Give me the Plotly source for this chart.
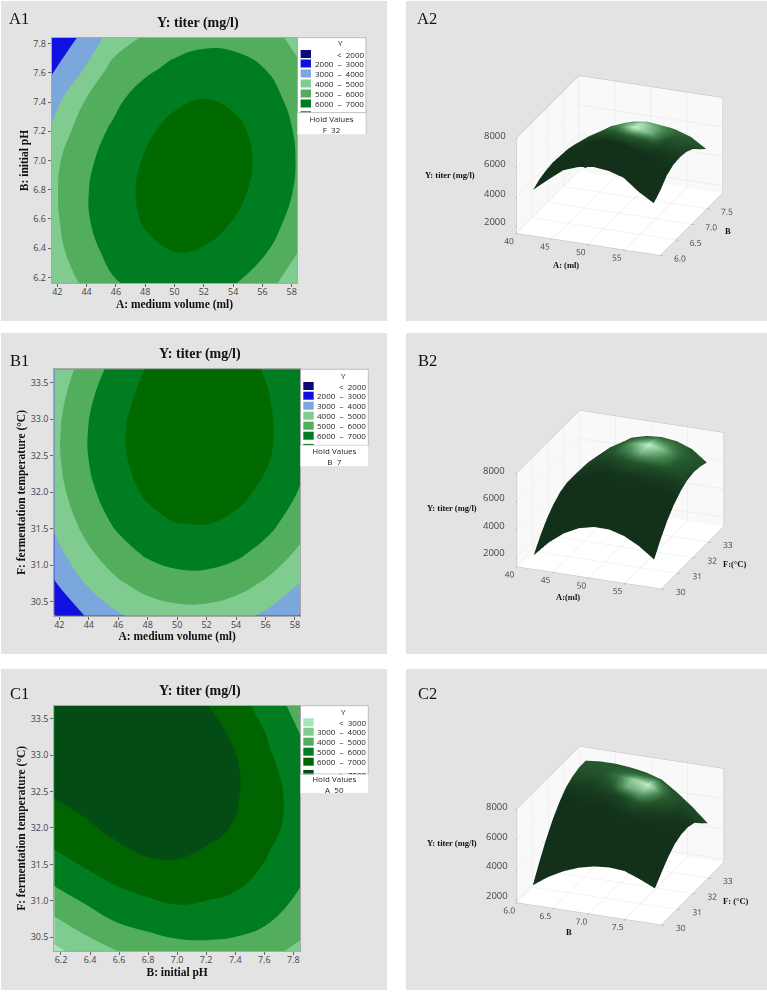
import plotly.graph_objects as go

W, H = 767, 992

# --- data: grid nodes and titer values (mg/l) ---
a_nodes = [41.62, 43.715, 45.81, 47.905, 50.0, 52.095, 54.19, 56.285, 58.38]
b_nodes = [6.16, 6.37, 6.58, 6.79, 7.0, 7.21, 7.42, 7.63, 7.84]
z_ab = [
    [4250, 5100, 5900, 6280, 6440, 6330, 6020, 5220, 4600],
    [4550, 5550, 6300, 6750, 6990, 6910, 6560, 6010, 5010],
    [4700, 5830, 6470, 7060, 7310, 7280, 6950, 6450, 5600],
    [4780, 5850, 6560, 7160, 7470, 7480, 7190, 6680, 5880],
    [4700, 5700, 6450, 7050, 7450, 7500, 7260, 6780, 5950],
    [4090, 5480, 6130, 6830, 7230, 7340, 7150, 6700, 5870],
    [3530, 4900, 5750, 6420, 6850, 7005, 6850, 6420, 5620],
    [2850, 3930, 5300, 5780, 6220, 6430, 6320, 5970, 5150],
    [2150, 3190, 4410, 5100, 5560, 5760, 5720, 5380, 4725],
]
a2_nodes = [41.66, 43.745, 45.83, 47.915, 50.0, 52.085, 54.17, 56.255, 58.34]
f_nodes = [30.31, 30.73, 31.15, 31.57, 32.0, 32.42, 32.84, 33.26, 33.68]
z_af = [
    [1950, 3020, 3830, 4360, 4610, 4600, 4300, 3740, 2960],
    [2870, 3960, 4780, 5320, 5590, 5585, 5310, 4750, 3930],
    [3610, 4715, 5545, 6100, 6380, 6390, 6125, 5590, 4775],
    [4170, 5290, 6130, 6700, 6995, 7015, 6765, 6240, 5440],
    [4555, 5685, 6540, 7125, 7435, 7470, 7230, 6720, 5930],
    [4750, 5890, 6760, 7355, 7680, 7730, 7500, 7005, 6230],
    [4760, 5915, 6800, 7410, 7745, 7805, 7590, 7105, 6345],
    [4590, 5760, 6655, 7280, 7625, 7700, 7500, 7030, 6280],
    [4240, 5420, 6330, 7040, 7330, 7415, 7280, 6900, 6100],
]
b2_nodes = [6.154, 6.3655, 6.577, 6.7885, 7.0, 7.2115, 7.423, 7.6345, 7.846]
z_bf = [
    [2750, 3450, 3980, 4370, 4610, 4700, 4620, 4230, 3780],
    [3870, 4480, 5050, 5350, 5590, 5530, 5400, 5070, 4400],
    [4890, 5450, 5900, 6190, 6380, 6240, 6000, 5470, 4970],
    [5770, 6220, 6620, 6960, 6995, 6790, 6560, 5930, 5400],
    [6480, 6830, 7240, 7420, 7434, 7250, 6890, 6230, 5620],
    [7020, 7330, 7620, 7720, 7680, 7480, 7020, 6300, 5650],
    [7320, 7560, 7800, 7820, 7743, 7540, 7010, 6170, 5500],
    [7480, 7660, 7800, 7760, 7626, 7380, 6800, 5920, 5030],
    [7500, 7600, 7600, 7500, 7327, 7010, 6320, 5520, 4600],
]
# brightness of the 3D surfaces at the same nodes (0 dark .. 1 highlight)
shade_ab = [
    [0, 0, 0, 0, 0, 0, 0, 0, 0],
    [0, 0, 0, 0, 0, 0, 0, 0, 0],
    [0, 0, 0, 0, 0, 0, 0, 0, 0],
    [0.05, 0.05, 0.08, 0.16, 0.28, 0.42, 0.25, 0.08, 0.03],
    [0.05, 0.12, 0.22, 0.33, 0.55, 1.0, 0.72, 0.2, 0.08],
    [0.1, 0.2, 0.3, 0.4, 0.6, 0.92, 0.68, 0.32, 0.15],
    [0.15, 0.2, 0.3, 0.4, 0.5, 0.7, 0.55, 0.35, 0.2],
    [0.15, 0.2, 0.25, 0.3, 0.35, 0.4, 0.4, 0.35, 0.25],
    [0.15, 0.2, 0.2, 0.25, 0.25, 0.3, 0.3, 0.3, 0.25],
]
shade_af = [
    [0, 0, 0, 0, 0, 0, 0, 0, 0],
    [0, 0, 0, 0, 0, 0, 0, 0, 0],
    [0, 0, 0, 0, 0, 0, 0, 0, 0],
    [0, 0, 0, 0, 0.03, 0.05, 0.03, 0, 0],
    [0, 0.02, 0.05, 0.1, 0.22, 0.3, 0.22, 0.1, 0.05],
    [0.05, 0.1, 0.15, 0.28, 0.5, 0.75, 0.55, 0.3, 0.15],
    [0.1, 0.15, 0.22, 0.35, 0.65, 1.0, 0.75, 0.35, 0.2],
    [0.15, 0.2, 0.25, 0.35, 0.45, 0.6, 0.5, 0.35, 0.25],
    [0.2, 0.22, 0.25, 0.3, 0.32, 0.35, 0.35, 0.3, 0.28],
]
shade_bf = [
    [0, 0, 0, 0, 0, 0, 0, 0, 0],
    [0, 0, 0, 0, 0, 0, 0, 0, 0],
    [0, 0, 0, 0, 0, 0, 0, 0, 0],
    [0, 0, 0, 0, 0.02, 0.03, 0.02, 0, 0],
    [0, 0.02, 0.05, 0.08, 0.15, 0.28, 0.12, 0.03, 0.02],
    [0.05, 0.1, 0.15, 0.3, 0.7, 0.72, 0.3, 0.08, 0.03],
    [0.2, 0.25, 0.3, 0.45, 0.85, 1.0, 0.38, 0.12, 0.08],
    [0.3, 0.3, 0.32, 0.35, 0.4, 0.6, 0.32, 0.18, 0.15],
    [0.32, 0.32, 0.3, 0.3, 0.3, 0.3, 0.25, 0.2, 0.2],
]

z_ticks = [2000, 4000, 6000, 8000]
legend_rows_low = ["<  2000", "2000  \u2013  3000", "3000  \u2013  4000", "4000  \u2013  5000", "5000  \u2013  6000", "6000  \u2013  7000"]
legend_rows_c = ["<  3000", "3000  \u2013  4000", "4000  \u2013  5000", "5000  \u2013  6000", "6000  \u2013  7000", ">  7000"]
colors_low = ["#0b0b78", "#1010e0", "#7ba7dc", "#80cc90", "#52ad5c", "#007d20", "#006a00"]
colors_c = ["#a2e6ba", "#80cc90", "#52ad5c", "#007d20", "#006400", "#044c16"]

GRAY = "#e3e3e3"
SERIF = "Liberation Serif"
SANS = "Open Sans"
TICK = "#444444"

def px(x):
    return x / W
def py(y):
    return 1 - y / H

fig = go.Figure()
shapes = []
annos = []

def rect(x0, y0, x1, y1, fill, line=None, lw=0):
    shapes.append(dict(type="rect", xref="paper", yref="paper", x0=px(x0), x1=px(x1), y0=py(y0), y1=py(y1),
                       fillcolor=fill, line=dict(color=line or fill, width=lw), layer="below"))

def text(x, y, s, size, family=SANS, color="#222222", xa="center", ya="middle", angle=0, **kw):
    annos.append(dict(xref="paper", yref="paper", x=px(x), y=py(y), text=s, showarrow=False, xanchor=xa, yanchor=ya,
                      textangle=angle, font=dict(family=family, size=size, color=color), **kw))

# grey panels
panels = [(1, 1, 387, 321), (406, 1, 767, 321), (1, 333, 387, 654), (406, 333, 767, 654), (1, 669, 387, 990), (406, 669, 767, 990)]
for p in panels:
    rect(*p, GRAY)

# panel letters
for x, y, s in [(19, 18, "A1"), (427, 18, "A2"), (19, 360, "B1"), (427, 360, "B2"), (19, 693, "C1"), (427, 693, "C2")]:
    text(x, y, s, 16.5, family=SERIF, color="#111111")

contours_spec = [
    dict(ax="", x=a_nodes, y=b_nodes, z=z_ab, colors=colors_low, start=2000, end=7000,
         box=(51.7, 37.7, 297.3, 283.3), xr=[41.62, 58.38], yr=[6.16, 7.84], xt=list(range(42, 60, 2)), xtf="d",
         yt=[6.2, 6.4, 6.6, 6.8, 7.0, 7.2, 7.4, 7.6, 7.8], ytf=".1f",
         xtitle="A: medium volume (ml)", ytitle="B: initial pH", hold="F  32", rows=legend_rows_low,
         leg=(297.3, 37.7, 366, 134, 112.7, 42.7, [54, 63.5, 73.5, 83.5, 93.5, 103.5], 119, 129)),
    dict(ax="2", x=a2_nodes, y=f_nodes, z=z_af, colors=colors_low, start=2000, end=7000,
         box=(54.3, 369.3, 300, 615.7), xr=[41.66, 58.34], yr=[30.31, 33.68], xt=list(range(42, 60, 2)), xtf="d",
         yt=[30.5, 31.0, 31.5, 32.0, 32.5, 33.0, 33.5], ytf=".1f",
         xtitle="A: medium volume (ml)", ytitle="F: fermentation temperature (\u00b0C)", hold="B  7", rows=legend_rows_low,
         leg=(300, 369.3, 368.3, 466, 445.3, 375, [386, 395.7, 405.7, 415.7, 425.7, 435.7], 451.7, 461.7)),
    dict(ax="3", x=b2_nodes, y=f_nodes, z=z_bf, colors=colors_c, start=3000, end=7000,
         box=(54.3, 705.7, 300, 951), xr=[6.154, 7.846], yr=[30.31, 33.68], xtf=".1f",
         xt=[6.2, 6.4, 6.6, 6.8, 7.0, 7.2, 7.4, 7.6, 7.8], yt=[30.5, 31.0, 31.5, 32.0, 32.5, 33.0, 33.5], ytf=".1f",
         xtitle="B: initial pH", ytitle="F: fermentation temperature (\u00b0C)", hold="A  50", rows=legend_rows_c,
         leg=(300, 705.7, 368.3, 793.3, 774, 711, [722.3, 731.7, 741.7, 751.7, 761.7, 774], 779, 789)),
]

layout_axes = {}
for c in contours_spec:
    n = len(c["colors"]) - 1
    scale = [[i / n, col] for i, col in enumerate(c["colors"])]
    fig.add_trace(go.Contour(x=c["x"], y=c["y"], z=c["z"], xaxis="x" + c["ax"], yaxis="y" + c["ax"],
                             autocontour=False,
                             contours=dict(start=c["start"], end=c["end"], size=1000, coloring="fill", showlines=False),
                             line=dict(width=0, smoothing=1.3), colorscale=scale, showscale=False, hoverinfo="skip"))
    x0, y0, x1, y1 = c["box"]
    axis_common = dict(showgrid=False, zeroline=False, showline=True, mirror=True, linecolor="#a8a8a8", linewidth=1,
                       ticks="outside", ticklen=3, tickcolor="#666666", tickfont=dict(family=SANS, size=9, color=TICK))
    layout_axes["xaxis" + c["ax"]] = dict(axis_common, domain=[px(x0), px(x1)], range=c["xr"], tickvals=c["xt"],
                                          tickformat=c["xtf"], anchor="y" + c["ax"], ticklabelstandoff=-3,
                                          title=dict(text="<b>%s</b>" % c["xtitle"], standoff=0,
                                                     font=dict(family=SERIF, size=11.5, color="#111111")))
    layout_axes["yaxis" + c["ax"]] = dict(axis_common, domain=[py(y1), py(y0)], range=c["yr"], tickvals=c["yt"],
                                          tickformat=c["ytf"], anchor="x" + c["ax"],
                                          title=dict(text="<b>%s</b>" % c["ytitle"], standoff=2,
                                                     font=dict(family=SERIF, size=11.5, color="#111111")))
    # chart title
    text((x0 + x1) / 2 + 23, y0 - 15, "<b>Y: titer (mg/l)</b>", 14, family=SERIF, color="#111111")
    # legend
    lx0, ly0, lx1, ly1, sep, ty, rows_y, h1, h2 = c["leg"]
    rect(lx0, ly0, lx1, ly1, "#ffffff", "#bdbdbd", 1)
    text(lx0 + 43.5, ty, "Y", 8)
    for i, (s, ry) in enumerate(zip(c["rows"], rows_y)):
        rect(lx0 + 3.3, ry - 4, lx0 + 13.7, ry + 4, c["colors"][i])
        text(lx1 - 0.5, ry, s, 8, xa="right")
    # strip of the clipped last swatch for the low-range legends
    if c["ax"] != "3":
        rect(lx0 + 3.3, sep - 1.4, lx0 + 13.7, sep, c["colors"][6])
    # the hold-value box sits on top of the clipped row
    annos.append(dict(xref="paper", yref="paper", x=px((lx0 + lx1) / 2), y=py(sep), xanchor="center", yanchor="top",
                      text="Hold Values<br>" + c["hold"], showarrow=False, align="center",
                      font=dict(family=SANS, size=8, color="#222222"), bgcolor="#ffffff",
                      width=lx1 - lx0 - 1.5, height=ly1 - sep - 1, borderpad=0))
    shapes.append(dict(type="line", xref="paper", yref="paper", x0=px(lx0), x1=px(lx1), y0=py(sep), y1=py(sep),
                       line=dict(color="#bdbdbd", width=1), layer="above"))

surfaces = [
    dict(name="scene", x=a_nodes, y=b_nodes, z=z_ab, shade=shade_ab, panel=(406, 1, 767, 321), xr=[40, 60], yr=[6, 8], zr=[1500, 8000],
         xt=[40, 45, 50, 55], xtf="d", yt=[6.0, 6.5, 7.0, 7.5], ytf=".1f",
         center=(-0.197, -0.065, 0.026), eye=(0.475, -1.779, 0.810), aspz=0.648,
         zlabel_x=494.5, zlabel_y=[221, 193, 164, 135],
         titles=[(450, 175, "Y: titer (mg/l)"), (566, 265, "A: (ml)"), (728, 231, "B")]),
    dict(name="scene2", x=a2_nodes, y=f_nodes, z=z_af, shade=shade_af, panel=(406, 333, 767, 654), xr=[40, 60], yr=[30, 34], zr=[1350, 8000],
         xt=[40, 45, 50, 55], xtf="d", yt=[30, 31, 32, 33], ytf="d",
         center=(-0.202, -0.063, 0.035), eye=(0.470, -1.777, 0.819), aspz=0.635,
         zlabel_x=494, zlabel_y=[552.7, 525, 497.7, 470],
         titles=[(451.7, 507.7, "Y: titer (mg/l)"), (567.7, 597.3, "A:(ml)"), (734.3, 564.3, "F:(\u00b0C)")]),
    dict(name="scene3", x=b2_nodes, y=f_nodes, z=z_bf, shade=shade_bf, panel=(406, 669, 767, 990), xr=[6, 8], yr=[30, 34], zr=[1800, 8000],
         xt=[6.0, 6.5, 7.0, 7.5], xtf=".1f", yt=[30, 31, 32, 33], ytf="d",
         center=(-0.202, -0.063, 0.035), eye=(0.470, -1.777, 0.819), aspz=0.635,
         zlabel_x=497, zlabel_y=[895, 865.7, 836.3, 806.7],
         titles=[(451.7, 843.3, "Y: titer (mg/l)"), (569, 931.7, "B"), (736, 900.7, "F: (\u00b0C)")]),
]

shine_scale = [[0, "#12301a"], [0.3, "#24562c"], [0.55, "#4a8a55"], [0.8, "#8cc596"], [1, "#bff0c8"]]
scenes = {}
for s in surfaces:
    fig.add_trace(go.Surface(x=s["x"], y=s["y"], z=s["z"], surfacecolor=s["shade"], cmin=0, cmax=1,
                             scene=s["name"], showscale=False, hoverinfo="skip", colorscale=shine_scale,
                             lighting=dict(ambient=1.0, diffuse=0.0, specular=0.0, roughness=1.0, fresnel=0.0)))
    def ax3(rng, tv, fmt, wall, labels=True):
        return dict(range=rng, tickvals=tv, tickformat=fmt, tickangle=0, title=dict(text=""), showbackground=True,
                    backgroundcolor=wall, gridcolor="#e4e4e4", gridwidth=1, showline=True, linecolor="#bdbdbd",
                    linewidth=1, mirror=True, zeroline=False, ticks="outside", ticklen=3, tickcolor="#888888",
                    showticklabels=labels, tickfont=dict(family=SANS, size=10, color=TICK), showspikes=False)
    x0, y0, x1, y1 = s["panel"]
    cx, cy, cz = s["center"]
    ex, ey, ez = s["eye"]
    scenes[s["name"]] = dict(
        domain=dict(x=[px(x0), px(x1)], y=[py(y1), py(y0)]),
        bgcolor=GRAY,
        xaxis=ax3(s["xr"], s["xt"], s["xtf"], "#f9f9f9"),
        yaxis=ax3(s["yr"], s["yt"], s["ytf"], "#f9f9f9"),
        zaxis=ax3(s["zr"], z_ticks, "d", "#ffffff", labels=False),
        aspectmode="manual", aspectratio=dict(x=0.966, y=1.069, z=s["aspz"]),
        camera=dict(projection=dict(type="orthographic"), eye=dict(x=ex, y=ey, z=ez),
                    center=dict(x=cx, y=cy, z=cz), up=dict(x=0, y=0, z=1)),
    )
    # z tick labels sit well clear of the axis in the reference
    for v, ly in zip(z_ticks, s["zlabel_y"]):
        text(s["zlabel_x"], ly, str(v), 9.5, color=TICK)
    for tx, ty, t in s["titles"]:
        text(tx, ty, "<b>%s</b>" % t, 8.5, family=SERIF, color="#111111")

fig.update_layout(width=W, height=H, autosize=False, margin=dict(l=0, r=0, t=0, b=0), paper_bgcolor="#ffffff",
                  plot_bgcolor="#ffffff", showlegend=False, shapes=shapes, annotations=annos, **layout_axes, **scenes)
fig.write_html("out.html", config=dict(displayModeBar=False),
               post_script="document.body.style.margin='0';document.body.style.overflow='hidden';")
